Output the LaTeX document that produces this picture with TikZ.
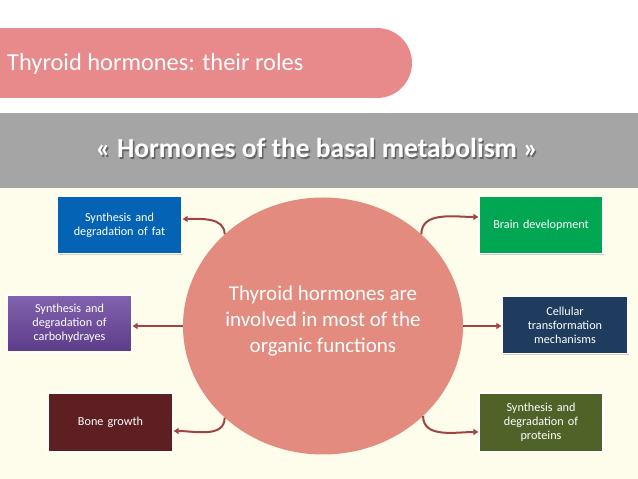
\documentclass[tikz,border=0pt]{standalone}
\usepackage{fontspec}
\setmainfont{Carlito}
\usetikzlibrary{shapes.geometric,shadows,arrows.meta}
\definecolor{pillc}{HTML}{E88A8C}
\definecolor{bandc}{HTML}{A5A5A5}
\definecolor{creamc}{HTML}{FEFDEC}
\definecolor{circc}{HTML}{E38B7E}
\definecolor{arrc}{HTML}{A04443}
\definecolor{bluec}{HTML}{0563B5}
\definecolor{purpc}{HTML}{6C47A0}
\definecolor{bonec}{HTML}{5E1F22}
\definecolor{greenc}{HTML}{00A651}
\definecolor{navyc}{HTML}{1F3B5E}
\definecolor{olivec}{HTML}{4F6228}
\begin{document}
\begin{tikzpicture}[x=1pt,y=1pt,
  box/.style={draw=white,line width=1.3pt,minimum width=125pt,minimum height=57pt,
    inner sep=2pt,align=center,text=white,text width=114pt,
    font=\fontsize{12.2}{14}\selectfont,
    drop shadow={shadow xshift=1.2pt,shadow yshift=-1.5pt,opacity=0.35}},
  arr/.style={draw=arrc,line width=2pt,-{Triangle[length=5pt,width=6pt]}}]
\useasboundingbox (0,0) rectangle (638,479);
% backgrounds
\fill[white] (0,366) rectangle (638,479);
\fill[bandc] (0,291) rectangle (638,366);
\fill[creamc] (0,0) rectangle (638,291);
% title pill
\fill[pillc] (0,381) rectangle (377,451);
\fill[pillc] (377,416) circle[radius=35];
\node[anchor=base west,inner sep=0,text=white,font=\fontsize{24.4}{28}\selectfont] (title) at (7,408) {Thyroid hormones: their roles};
% banner
\node[anchor=base,inner sep=0,text=black!70,opacity=0.7,font=\bfseries\fontsize{27.5}{32}\selectfont] (bannershadow) at (318.5,319.5) {« Hormones of the basal metabolism »};
\node[anchor=base,inner sep=0,text=white,font=\bfseries\fontsize{27.5}{32}\selectfont] (banner) at (317,321) {« Hormones of the basal metabolism »};
% circle
\node[ellipse,fill=circc,minimum width=280pt,minimum height=257pt,inner sep=0] (circ) at (323,153) {};
\node[align=center,text=white,inner sep=0,font=\fontsize{21}{26}\selectfont] (circtext) at (323,158) {Thyroid hormones are\\involved in most of the\\organic functions};
% boxes
\node[box,fill=bluec] (fat) at (119.5,254) {Synthesis and\\degradation of fat};
\node[box,top color=purpc!85!white,bottom color=purpc!85!black] (carb) at (69.5,155.5) {Synthesis and\\degradation of\\carbohydrayes};
\node[box,fill=bonec,minimum height=59pt] (bone) at (110.5,56.5) {Bone growth};
\node[box,fill=greenc,minimum width=124pt] (brain) at (541,254) {Brain development};
\node[box,fill=navyc,minimum width=126pt] (cell) at (565,154) {Cellular\\transformation\\mechanisms};
\node[box,fill=olivec,minimum width=124pt,minimum height=59pt] (prot) at (541,56.5) {Synthesis and\\degradation of\\proteins};
% arrows
\draw[arr] (circ.137.7) to[out=90,in=0] ([yshift=6pt]fat.east);
\draw[arr] (circ.west) -- (carb.east |- circ.west);
\draw[arr] (circ.223.2) to[out=-90,in=0] ([yshift=-8.5pt]bone.east);
\draw[arr] (circ.43.2) to[out=90,in=180] ([yshift=8pt]brain.west);
\draw[arr] (circ.east) -- (cell.west |- circ.east);
\draw[arr] (circ.-42.6) to[out=-90,in=180] ([yshift=-9.5pt]prot.west);
\end{tikzpicture}
\end{document}
